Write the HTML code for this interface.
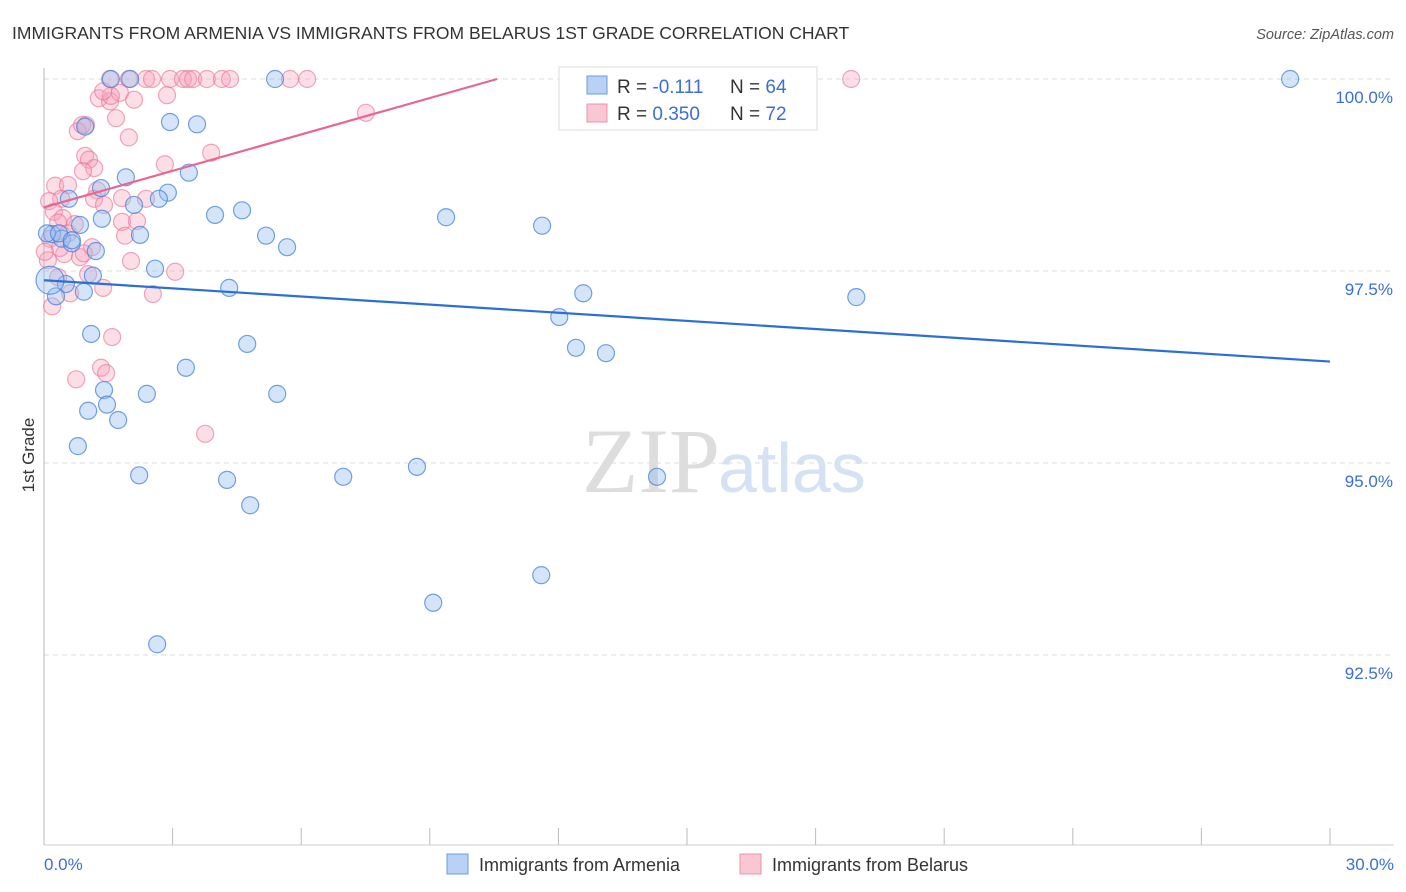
<!DOCTYPE html>
<html><head><meta charset="utf-8"><style>
body{margin:0;background:#fff;font-family:"Liberation Sans",sans-serif;}
svg{display:block}
</style></head><body>
<svg id="chart" width="1406" height="892" viewBox="0 0 1406 892" xmlns="http://www.w3.org/2000/svg">
<text x="12" y="39" font-size="17.5" fill="#333">IMMIGRANTS FROM ARMENIA VS IMMIGRANTS FROM BELARUS 1ST GRADE CORRELATION CHART</text>
<text x="1394" y="39" font-size="14.5" fill="#555" font-style="italic" text-anchor="end">Source: ZipAtlas.com</text>
<g id="grid"></g>
<g id="ticks"></g>
<line x1="44" y1="68" x2="44" y2="845" stroke="#bbb" stroke-width="1"/>
<line x1="44" y1="845" x2="1394" y2="845" stroke="#ccc" stroke-width="1"/>
<text x="720" y="492" font-size="92" fill="#ddd" text-anchor="end" font-family="Liberation Serif,serif">ZIP</text>
<text x="718" y="492" font-size="70" fill="#d4e2f4">atlas</text>
<g id="ylabels"></g>
<text x="34" y="455" font-size="17" fill="#333" text-anchor="middle" transform="rotate(-90 34 455)">1st Grade</text>
<text x="44" y="870" font-size="17" fill="#3b6fd4">0.0%</text>
<text x="1394" y="870" font-size="17" fill="#3b6fd4" text-anchor="end">30.0%</text>
<g id="points"></g>
<g id="lines"></g>
<g>
<rect x="559" y="67" width="258" height="63" fill="#fff" stroke="#ddd"/>
<rect x="587" y="76" width="20" height="18" fill="#b9d1f5" stroke="#6d9be0"/>
<rect x="587" y="104" width="20" height="18" fill="#f9c6d4" stroke="#ec93ad"/>
<text x="617" y="93" font-size="19" fill="#333">R = <tspan fill="#3b6fd4">-0.111</tspan><tspan x="730">N = </tspan><tspan fill="#3b6fd4">64</tspan></text>
<text x="617" y="120" font-size="19" fill="#333">R = <tspan fill="#3b6fd4">0.350</tspan><tspan x="730">N = </tspan><tspan fill="#3b6fd4">72</tspan></text>
</g>
<g>
<rect x="447" y="854" width="21" height="20" fill="#b9d1f5" stroke="#6d9be0"/>
<text x="479" y="871" font-size="18" fill="#333">Immigrants from Armenia</text>
<rect x="740" y="854" width="21" height="20" fill="#f9c6d4" stroke="#ec93ad"/>
<text x="772" y="871" font-size="18" fill="#333">Immigrants from Belarus</text>
</g>
</svg>
<script>
const yTicks=[100,97.5,95,92.5];
const yTickLabels=["100.0%","97.5%","95.0%","92.5%"];
const xTicks=[0,3,6,9,12,15,18,21,24,27,30];
const blueX=[1.56,2.01,5.39,29.07,2.94,3.57,0.96,1.91,3.38,1.33,2.89,2.68,0.58,2.10,3.99,4.62,9.38,11.62,1.35,0.84,0.19,2.24,5.18,5.67,0.42,0.65,1.21,2.59,1.14,0.51,4.32,12.58,18.95,0.28,0.93,12.02,1.10,4.74,12.41,13.11,3.31,1.40,2.40,5.44,1.47,1.03,1.73,0.79,2.22,4.27,6.98,8.70,14.30,4.81,11.60,9.08,2.64,0.14,0.07,0.35,0.65];
const blueY=[100,100,100,100,99.44,99.41,99.38,98.72,98.78,98.58,98.52,98.44,98.44,98.36,98.23,98.29,98.20,98.09,98.18,98.10,97.98,97.97,97.96,97.81,97.92,97.86,97.76,97.53,97.44,97.33,97.28,97.21,97.16,97.17,97.23,96.90,96.68,96.55,96.50,96.43,96.24,95.95,95.90,95.90,95.76,95.68,95.56,95.22,94.84,94.78,94.82,94.95,94.82,94.45,93.54,93.18,92.64,97.38,97.99,97.99,97.90];
const pinkX=[1.54,1.98,2.38,2.52,2.94,3.24,3.36,3.48,3.80,4.15,4.34,5.74,6.14,18.83,1.28,1.54,2.10,2.87,1.68,0.98,0.79,0.89,1.98,7.51,3.90,2.82,0.96,1.05,1.17,0.91,0.26,0.56,1.24,1.17,0.40,0.12,1.82,2.38,1.40,0.23,0.44,0.72,0.33,1.82,2.17,1.89,0.56,0.14,0.47,0.09,0.84,2.03,3.06,1.03,1.38,0.61,2.54,0.19,1.59,0.75,1.33,1.45,3.76,1.12,0.93,0.37,0.02,0.33,1.77,1.56,1.38];
const pinkY=[100,100,100,100,100,100,100,100,100,100,100,100,100,100,99.75,99.71,99.73,99.79,99.49,99.40,99.32,99.40,99.24,99.56,99.04,98.89,99.00,98.95,98.84,98.80,98.61,98.62,98.55,98.44,98.44,98.41,98.45,98.44,98.36,98.27,98.19,98.11,98.13,98.14,98.15,97.96,97.99,97.92,97.72,97.64,97.68,97.63,97.49,97.46,97.28,97.21,97.20,97.04,96.64,96.09,96.24,96.17,95.38,97.81,97.73,97.80,97.75,97.42,99.82,99.78,99.84];
const blueTrend=[97.38,-0.0353];
const pinkTrend=[98.33,0.158];
const sx=v=>44+v/30*1286;
const sy=v=>79+(100-v)/2.5*192;
const NS="http://www.w3.org/2000/svg";
function mk(p,tag,a){const e=document.createElementNS(NS,tag);for(const k in a)e.setAttribute(k,a[k]);p.appendChild(e);return e;}
const grid=document.getElementById('grid');
yTicks.forEach((t,i)=>{
 const l=mk(grid,'line',{x1:44,x2:1394,y1:sy(t),y2:sy(t),stroke:'#ddd','stroke-dasharray':'5,4'});
 
 
 const tx=mk(document.getElementById('ylabels'),'text',{x:1393,y:sy(t)+24,'font-size':17,fill:'#3b6fd4','text-anchor':'end'});
 tx.textContent=yTickLabels[i];
 
 
});
xTicks.forEach(t=>{
 const l=mk(document.getElementById('ticks'),'line',{x1:sx(t),x2:sx(t),y1:828,y2:845,stroke:'#bbb'});
 
 
});
const pts=document.getElementById('points');
pinkX.forEach((x,i)=>{
 const c=mk(pts,'circle',{cx:sx(x),cy:sy(pinkY[i]),r:8.5,fill:'rgba(246,160,186,0.35)',stroke:'rgba(232,120,155,0.65)','stroke-width':1.2});
 
 
});
blueX.forEach((x,i)=>{
 const c=mk(pts,'circle',{cx:sx(x),cy:sy(blueY[i]),r:i==57?14:8.5,fill:'rgba(150,190,240,0.4)',stroke:'rgba(70,130,220,0.75)','stroke-width':1.2});
 
 
});
const ln=document.getElementById('lines');
const b=mk(ln,'line',{x1:sx(0),y1:sy(blueTrend[0]),x2:sx(30),y2:sy(blueTrend[0]+blueTrend[1]*30),stroke:'#2a6fd6','stroke-width':2.2});


const xe=Math.min(30,(100-pinkTrend[0])/pinkTrend[1]);
const p=mk(ln,'line',{x1:sx(0),y1:sy(pinkTrend[0]),x2:sx(xe),y2:sy(pinkTrend[0]+pinkTrend[1]*xe),stroke:'#e8668f','stroke-width':2.2});


</script>
</body></html>
